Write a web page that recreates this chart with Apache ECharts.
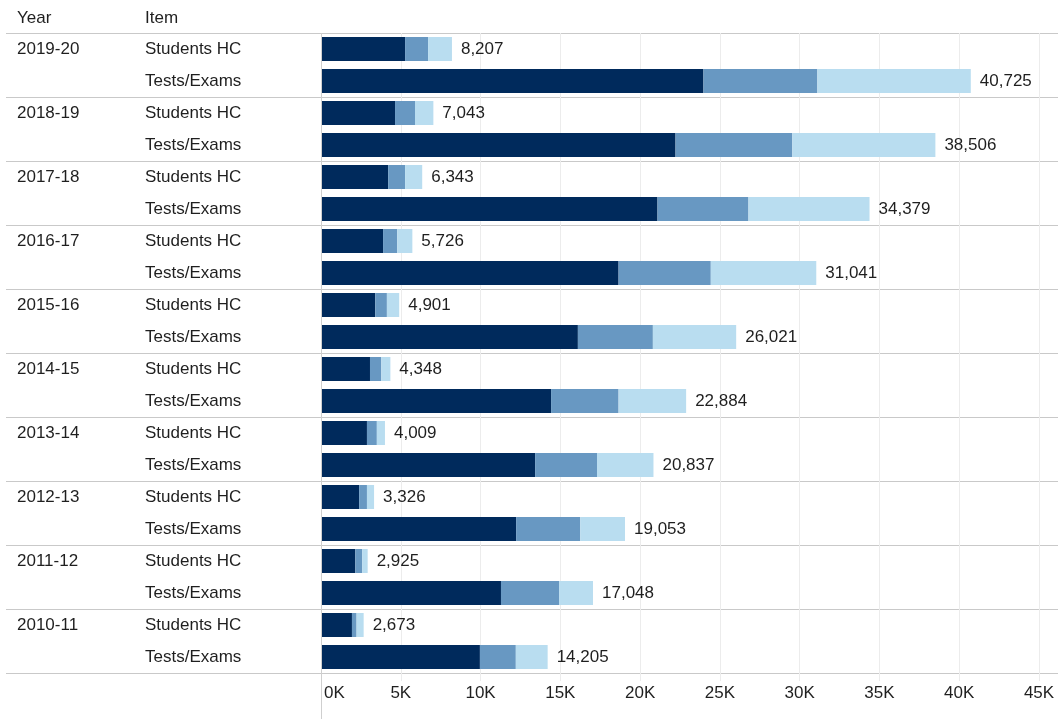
<!DOCTYPE html>
<html>
<head>
<meta charset="utf-8">
<script src="https://cdn.jsdelivr.net/npm/echarts@6/dist/echarts.min.js"></script>
<style>
html,body{margin:0;padding:0;background:#fff;}
#chart{width:1060px;height:719px;}
</style>
</head>
<body>
<div id="chart"></div>
<script>
// ---- data ----
const years = ['2019-20','2018-19','2017-18','2016-17','2015-16','2014-15','2013-14','2012-13','2011-12','2010-11'];
const items = ['Students HC','Tests/Exams'];
// segment values, order per year: [Students HC, Tests/Exams]
const segDark  = [5270,23970, 4640,22220, 4210,21090, 3890,18650, 3400,16100, 3070,14420, 2880,13420, 2390,12230, 2150,11280, 1940,9960];
const segMid   = [1440,7140,  1250,7320,  1060,5700,  890,5780,   730,4700,   710,4230,   620,3880,   490,4020,   430,3640,   290,2250];
const segLight = [1497,9615,  1153,8966,  1073,7589,  946,6611,   771,5221,   568,4234,   509,3537,   446,2803,   345,2128,   443,1995];
const totals   = [8207,40725, 7043,38506, 6343,34379, 5726,31041, 4901,26021, 4348,22884, 4009,20837, 3326,19053, 2925,17048, 2673,14205];
const xTicks = [0,5000,10000,15000,20000,25000,30000,35000,40000,45000];

// ---- build ----
const cats = [];
years.forEach(y => items.forEach(it => cats.push(y + '|' + it)));
const FONT = 'Liberation Sans, Arial, sans-serif';
const FS = 17;
const TXT = '#1f1f1f';

const chart = echarts.init(document.getElementById('chart'), null, {renderer:'canvas'});
chart.setOption({
  animation:false,
  backgroundColor:'#fff',
  textStyle:{fontFamily:FONT},
  graphic:[
    {type:'text', left:17, top:10, style:{text:'Year', font:FS+'px '+FONT, fill:TXT}},
    {type:'text', left:145, top:10, style:{text:'Item', font:FS+'px '+FONT, fill:TXT}},
    {type:'line', shape:{x1:321.5,y1:33,x2:321.5,y2:719}, style:{stroke:'#cfcfcf', lineWidth:1}, z:50}
  ],
  grid:[
    {left:6, right:2, top:33, height:640},
    {left:321, width:718, top:33, height:640}
  ],
  xAxis:[
    {gridIndex:0, type:'value', min:0, max:1, show:false},
    {gridIndex:1, type:'value', min:xTicks[0], max:xTicks[xTicks.length-1], interval:xTicks[1]-xTicks[0],
     axisLine:{show:false},
     axisTick:{show:true, length:8, lineStyle:{color:'#ececec'}},
     splitLine:{show:true, lineStyle:{color:'#ececec'}},
     axisLabel:{fontSize:FS, color:TXT, margin:12, fontFamily:FONT, alignMinLabel:'left',
       formatter: v => v === xTicks[0] ? '{m|' + (v/1000) + 'K}' : (v/1000) + 'K',
       rich:{m:{padding:[0,0,0,3], fontSize:FS, color:TXT, fontFamily:FONT}}}}
  ],
  yAxis:[
    {gridIndex:0, type:'category', data:years, inverse:true,
     axisLine:{show:false}, axisTick:{show:false}, axisLabel:{show:false},
     splitLine:{show:true, lineStyle:{color:'#c9c9c9', width:1}}},
    {gridIndex:1, type:'category', data:cats, inverse:true,
     axisLine:{show:false}, axisTick:{show:false}, splitLine:{show:false},
     axisLabel:{margin:304, align:'left', fontSize:FS, color:TXT, fontFamily:FONT,
       formatter: v => {
         const [y, it] = v.split('|');
         return '{y|' + (it === items[0] ? y : '') + '}{i|' + it + '}';
       },
       rich:{
         y:{width:128, fontSize:FS, color:TXT, fontFamily:FONT},
         i:{fontSize:FS, color:TXT, fontFamily:FONT}
       }}}
  ],
  series:[
    {name:'Segment 1', type:'bar', stack:'t', xAxisIndex:1, yAxisIndex:1, data:segDark, barWidth:24,
     itemStyle:{color:'#002a5c'}},
    {name:'Segment 2', type:'bar', stack:'t', xAxisIndex:1, yAxisIndex:1, data:segMid, barWidth:24,
     itemStyle:{color:'#6898c2'}},
    {name:'Segment 3', type:'bar', stack:'t', xAxisIndex:1, yAxisIndex:1, data:segLight, barWidth:24,
     itemStyle:{color:'#b9ddf0'},
     label:{show:true, position:'right', distance:9, fontSize:FS, color:TXT, fontFamily:FONT,
       formatter: p => totals[p.dataIndex].toLocaleString('en-US')}}
  ]
});
</script>
</body>
</html>
